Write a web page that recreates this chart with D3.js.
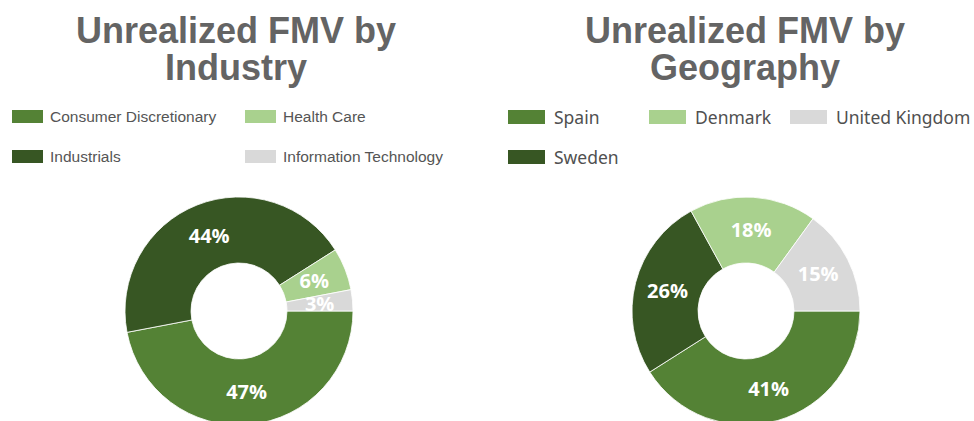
<!DOCTYPE html>
<html lang="en">
  <head>
    <meta charset="utf-8">
    <script src="https://d3js.org/d3.v7.min.js"></script>
    <style>
      body { margin: 0; background: #fff; }
      .title { font-family: "Liberation Sans", Arial, sans-serif; font-weight: bold; font-size: 36px; fill: #646464; }
      .label { font-family: "Open Sans", sans-serif; font-weight: bold; font-size: 20px; fill: #fff; }
    </style>
  </head>
  <body>
    <svg width="974" height="421"></svg>
    <script>
      // data, in slice order (clockwise from 3 o'clock)
      var industryCategories = ["Consumer Discretionary", "Industrials", "Health Care", "Information Technology"];
      var industryValues = [47, 44, 6, 3];
      var geoCategories = ["Spain", "Sweden", "Denmark", "United Kingdom"];
      var geoValues = [41, 26, 18, 15];
      var geoLegendOrder = ["Spain", "Denmark", "United Kingdom", "Sweden"];

      var palette = ["#548235", "#375623", "#a9d18e", "#d9d9d9"];

      var svg = d3.select("svg");
      var outerR = 114, innerR = 48;

      var pie = d3.pie()
        .sort(null)
        .value(function (d) { return d.value; })
        .startAngle(Math.PI / 2)
        .endAngle(Math.PI / 2 + 2 * Math.PI);
      var arc = d3.arc().innerRadius(innerR).outerRadius(outerR);

      function donut(cx, cy, cats, vals) {
        var data = cats.map(function (c, i) { return { name: c, value: vals[i] }; });
        var color = d3.scaleOrdinal().domain(cats).range(palette);
        var g = svg.append("g").attr("transform", "translate(" + cx + "," + cy + ")");
        var arcs = pie(data);
        g.selectAll("path")
          .data(arcs)
          .enter()
          .append("path")
          .attr("d", arc)
          .attr("fill", function (d) { return color(d.data.name); })
          .attr("stroke", "#fff")
          .attr("stroke-width", 0.8);
        g.selectAll(".label")
          .data(arcs)
          .enter()
          .append("text")
          .attr("class", "label")
          .attr("text-anchor", "middle")
          .attr("dy", "0.36em")
          .attr("transform", function (d) { return "translate(" + arc.centroid(d) + ")"; })
          .text(function (d) { return d.data.value + "%"; });
        return color;
      }

      function title(cx, lines) {
        svg.append("text")
          .attr("class", "title")
          .attr("text-anchor", "middle")
          .selectAll("tspan")
          .data(lines)
          .enter()
          .append("tspan")
          .attr("x", cx)
          .attr("y", function (d, i) { return 43 + i * 37; })
          .text(function (d) { return d; });
      }

      // left chart
      title(236, ["Unrealized FMV by", "Industry"]);
      var c1 = donut(239, 311, industryCategories, industryValues);
      // legend: two columns, filled top to bottom
      var leg1 = svg.append("g").selectAll("g")
        .data(industryCategories)
        .enter()
        .append("g")
        .attr("transform", function (d, i) {
          return "translate(" + (12 + Math.floor(i / 2) * 233) + "," + (110 + (i % 2) * 40) + ")";
        });
      leg1.append("rect").attr("width", 31).attr("height", 13).attr("fill", function (d) { return c1(d); });
      leg1.append("text")
        .attr("x", 38).attr("y", 12)
        .style("font-family", "'Liberation Sans', Arial, sans-serif")
        .style("font-size", "15.5px")
        .style("fill", "#555")
        .text(function (d) { return d; });

      // right chart
      title(745, ["Unrealized FMV by", "Geography"]);
      var c2 = donut(746, 311, geoCategories, geoValues);
      // legend: three columns, filled left to right
      var leg2 = svg.append("g").selectAll("g")
        .data(geoLegendOrder)
        .enter()
        .append("g")
        .attr("transform", function (d, i) {
          return "translate(" + (508 + (i % 3) * 141) + "," + (110 + Math.floor(i / 3) * 40) + ")";
        });
      leg2.append("rect").attr("width", 37).attr("height", 14).attr("fill", function (d) { return c2(d); });
      leg2.append("text")
        .attr("x", 46).attr("y", 14)
        .style("font-family", "'Noto Sans', sans-serif")
        .style("font-size", "17.5px")
        .style("fill", "#505050")
        .text(function (d) { return d; });
    </script>
  </body>
</html>
